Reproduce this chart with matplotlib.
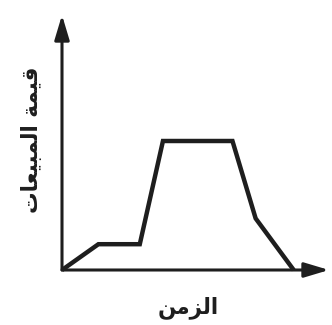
import matplotlib
matplotlib.use("Agg")
import matplotlib.pyplot as plt

# ---- data (arbitrary units) ----
time = [0, 1.1, 2.35, 3.05, 5.15, 5.85, 7.0]
sales = [0, 1, 1, 5, 5, 2, 0]
x_label = "الزمن"
y_label = "قيمة المبيعات"

# ---- minimal Arabic shaping for matplotlib (no bidi support) ----
FORMS = {  # isolated, final, initial, medial
    'ا': (0xFE8D, 0xFE8E, None, None),
    'ل': (0xFEDD, 0xFEDE, 0xFEDF, 0xFEE0),
    'م': (0xFEE1, 0xFEE2, 0xFEE3, 0xFEE4),
    'ب': (0xFE8F, 0xFE90, 0xFE91, 0xFE92),
    'ي': (0xFEF1, 0xFEF2, 0xFEF3, 0xFEF4),
    'ع': (0xFEC9, 0xFECA, 0xFECB, 0xFECC),
    'ت': (0xFE95, 0xFE96, 0xFE97, 0xFE98),
    'ق': (0xFED5, 0xFED6, 0xFED7, 0xFED8),
    'ة': (0xFE93, 0xFE94, None, None),
    'ز': (0xFEAF, 0xFEB0, None, None),
    'ن': (0xFEE5, 0xFEE6, 0xFEE7, 0xFEE8),
}

def joins_next(ch):
    return ch in FORMS and FORMS[ch][2] is not None

def shape(text):
    out = []
    for i, ch in enumerate(text):
        if ch not in FORMS:
            out.append(ch)
            continue
        prev = text[i - 1] if i > 0 else ''
        nxt = text[i + 1] if i + 1 < len(text) else ''
        from_prev = joins_next(prev)
        to_next = joins_next(ch) and nxt in FORMS
        iso, fin, ini, med = FORMS[ch]
        if from_prev and to_next:
            cp = med
        elif from_prev:
            cp = fin
        elif to_next:
            cp = ini
        else:
            cp = iso
        out.append(chr(cp))
    return ''.join(reversed(out))

W, H = 332, 325
fig = plt.figure(figsize=(W / 100, H / 100), dpi=100)
fig.patch.set_facecolor('white')

# axes origin at pixel (62, 270), x-axis to 329, y-axis to 15
ax = fig.add_axes([62 / W, (H - 270) / H, (329 - 62) / W, (270 - 15) / H])
ax.set_xlim(0, 267 / 33.1)
ax.set_ylim(0, 255 / 25.8)
for s in ax.spines.values():
    s.set_visible(False)
ax.set_xticks([])
ax.set_yticks([])
ax.patch.set_alpha(0)

col = '#1e1e1e'
ax.plot(time, sales, color=col, lw=3.2, solid_joinstyle='miter',
        solid_capstyle='butt', clip_on=False, zorder=3)

arrow = dict(arrowstyle='-|>,head_length=1.0,head_width=0.3', color=col,
             lw=2.2, shrinkA=0, shrinkB=0, mutation_scale=15)
ax.annotate('', xy=(0, 1), xytext=(0, 0), xycoords='axes fraction',
            arrowprops=arrow, annotation_clip=False)
ax.annotate('', xy=(1, 0), xytext=(0, 0), xycoords='axes fraction',
            arrowprops=arrow, annotation_clip=False)

fig.text(188 / W, 1 - 308 / H, shape(x_label), ha='center', va='center',
         fontsize=15.5, fontweight='bold', color=col, family='DejaVu Sans')
fig.text(32 / W, 1 - 140 / H, shape(y_label), ha='center', va='center',
         rotation=90, fontsize=15.5, fontweight='bold', color=col,
         family='DejaVu Sans')

fig.savefig('out.png', dpi=100)
